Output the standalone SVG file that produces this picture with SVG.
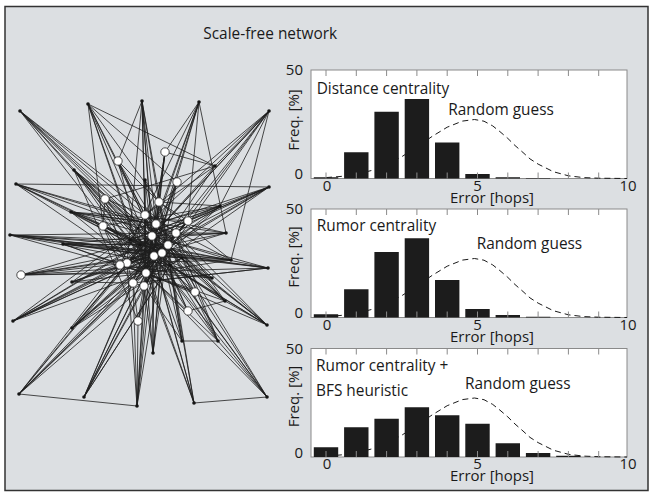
<svg xmlns="http://www.w3.org/2000/svg" xmlns:xlink="http://www.w3.org/1999/xlink" width="653" height="495" viewBox="0 0 653 495">
<style>
text{font-family:"Open Sans","Noto Sans","Liberation Sans",sans-serif;fill:#1a1a1a}
.t{font-size:15.4px}
.ax{font-size:15px}
.e path{fill:none;stroke:#1e1e1e;stroke-width:0.8}
.b{fill:#151515}
.w{fill:#fff;stroke:#222;stroke-width:0.8}
.box{fill:#fff;stroke:#8a8a8a;stroke-width:1}
.tk{fill:none;stroke:#8a8a8a;stroke-width:1}
.bar{fill:#1c1c1c}
.rg{fill:none;stroke:#1a1a1a;stroke-width:1;stroke-dasharray:6 4}
</style>
<defs>
<path id="curve" d="M326,-0.9 L341.2,-2.1 L356.3,-4.2 L371.5,-8 L386.6,-13.8 L401.8,-21.8 L416.9,-31.6 L432,-42 L447.2,-51.3 L462.4,-57.4 L474.5,-59 L484,-57.3 L492.7,-52.6 L500,-46.8 L507.8,-40.1 L515,-33 L523,-26 L530,-19.6 L538.1,-14.4 L553.3,-6.8 L568.4,-2.7 L583.6,-0.9 L598.7,-0.3 L627,0"/>
<path id="ticks" d="M326,0v6M356.3,0v6M386.6,0v6M416.9,0v6M447.2,0v6M477.5,0v6M507.8,0v6M538.1,0v6M568.4,0v6M598.7,0v6M326,108.5v-6M356.3,108.5v-6M386.6,108.5v-6M416.9,108.5v-6M447.2,108.5v-6M477.5,108.5v-6M507.8,108.5v-6M538.1,108.5v-6M568.4,108.5v-6M598.7,108.5v-6"/>
</defs>
<rect x="0" y="0" width="653" height="495" fill="#fff"/>
<rect x="5" y="6.5" width="643" height="484" fill="#dcdfe2" stroke="#333" stroke-width="1.5"/>
<text class="t" x="203.3" y="39">Scale-free network</text>

<g id="connectors" class="e">
<path d="M20 111L140 245M20 111L152 236M20 111L156 224M20 111L146 273M20 111L138 228M20 111L154 256M20 111L176 233M20 111L168 245"/>
<path d="M88 104L215 166M88 104L145 215M88 104L159 202M88 104L103 226M88 104L154 256M88 104L177 182M88 104L194 403M88 104L146 273M88 104L162 253"/>
<path d="M142 101L118 161M142 101L145 215M142 101L156 224M142 101L127 263M142 101L168 245M142 101L146 273M142 101L182 341M142 101L154 256M142 101L152 236"/>
<path d="M199 102L165 152M199 102L188 221M199 102L152 236M199 102L154 256M199 102L226 233M199 102L133 283M199 102L146 273M199 102L120 265"/>
<path d="M269 111L215 166M269 111L220 206M269 111L231 260M269 111L145 215M269 111L168 245M269 111L127 263M269 111L144 286M269 111L152 236M269 111L154 256M269 111L130 240"/>
<path d="M16 184L138 228M16 184L156 224M16 184L176 233M16 184L140 245M16 184L162 253M16 184L269 187M16 184L154 256M16 184L146 273"/>
<path d="M74 170L152 236M74 170L154 256M74 170L146 273M74 170L160 280M74 170L170 265M74 170L138 321M74 170L130 240M74 170L162 253M74 170L168 245"/>
<path d="M71 212L156 224M71 212L176 233M71 212L188 221M71 212L162 253M71 212L182 258M71 212L226 233M71 212L154 256M71 212L146 273M71 212L152 236"/>
<path d="M10 235L130 240M10 235L140 245M10 235L154 256M10 235L176 233M10 235L170 265M10 235L231 260M10 235L268 268M10 235L146 273M10 235L162 253M10 235L168 245"/>
<path d="M63 244L140 245M63 244L152 236M63 244L168 245M63 244L162 253M63 244L182 258M63 244L195 292M63 244L154 256M63 244L146 273"/>
<path d="M215 166L145 215M215 166L152 236M215 166L105 199M215 166L154 256M215 166L165 152"/>
<path d="M145 180L156 224M145 180L154 256M145 180L146 273M145 180L144 286M145 180L159 202"/>
<path d="M220 206L130 240M220 206L138 228M220 206L152 236M220 206L127 263M220 206L103 226M220 206L159 202M220 206L154 256M220 206L146 273"/>
<path d="M269 187L188 221M269 187L156 224M269 187L152 236M269 187L140 245M269 187L146 273M269 187L130 240M269 187L120 265M269 187L154 256M269 187L168 245"/>
<path d="M226 233L176 233M226 233L168 245M226 233L152 236M226 233L130 240M226 233L145 215M226 233L120 265"/>
<path d="M231 260L162 253M231 260L154 256M231 260L140 245M231 260L127 263M231 260L145 215M231 260L159 202M231 260L146 273M231 260L152 236"/>
<path d="M212 278L170 265M212 278L168 245M212 278L156 224M212 278L146 273M212 278L120 265M212 278L154 256"/>
<path d="M268 268L182 258M268 268L162 253M268 268L152 236M268 268L130 240M268 268L133 283M268 268L160 280"/>
<path d="M13 321L120 265M13 321L127 263M13 321L154 256M13 321L152 236M13 321L162 253M13 321L140 245M13 321L138 228M13 321L146 273M13 321L168 245"/>
<path d="M72 328L127 263M72 328L146 273M72 328L154 256M72 328L152 236M72 328L182 258M72 328L176 233M72 328L162 253M72 328L168 245"/>
<path d="M72 282L133 283M72 282L146 273M72 282L127 263M72 282L154 256M72 282L130 240M72 282L168 245"/>
<path d="M19 394L120 265M19 394L127 263M19 394L133 283M19 394L144 286M19 394L146 273M19 394L154 256M19 394L137 406M19 394L152 236M19 394L162 253"/>
<path d="M84 397L144 286M84 397L146 273M84 397L160 280M84 397L170 265M84 397L168 245M84 397L133 283M84 397L154 256M84 397L152 236"/>
<path d="M137 406L133 283M137 406L144 286M137 406L154 256M137 406L146 273M137 406L127 263M137 406L138 321M137 406L152 236M137 406L162 253"/>
<path d="M225 301L182 258M225 301L170 265M225 301L168 245M225 301L176 233M225 301L154 256M225 301L146 273M225 301L152 236M225 301L156 224"/>
<path d="M182 341L218 341M182 341L160 280M182 341L170 265M182 341L162 253M182 341L144 286"/>
<path d="M218 341L168 245M218 341L182 258M218 341L170 265M218 341L176 233M218 341L267 397M218 341L146 273M218 341L154 256"/>
<path d="M153 353L160 280M153 353L154 256M153 353L146 273M153 353L144 286M153 353L168 245M153 353L152 236M153 353L162 253"/>
<path d="M194 403L267 397M194 403L160 280M194 403L170 265M194 403L154 256M194 403L168 245M194 403L146 273"/>
<path d="M267 397L170 265M267 397L182 258M267 397L168 245M267 397L162 253M267 397L146 273M267 397L154 256"/>
<path d="M267 325L182 258M267 325L170 265M267 325L168 245M267 325L146 273M267 325L176 233M267 325L154 256M267 325L225 301M267 325L152 236M267 325L156 224"/>
<path d="M118 161L145 215M118 161L156 224M118 161L152 236M118 161L140 245"/>
<path d="M165 152L156 224M165 152L154 256M165 152L146 273M165 152L152 236"/>
<path d="M177 182L152 236M177 182L154 256M177 182L146 273M177 182L162 253"/>
<path d="M21 275L127 263M21 275L146 273M21 275L154 256M21 275L162 253M21 275L170 265M21 275L268 268M21 275L152 236M21 275L168 245"/>
<path d="M188 311L154 256M188 311L146 273M188 311L162 253M188 311L152 236M188 311L225 301"/>
<path d="M138 321L152 236M138 321L154 256M138 321L162 253M138 321L133 283"/>
<path d="M195 292L156 224M195 292L152 236M195 292L154 256M195 292L146 273"/>
<path d="M145 215L156 224M145 215L152 236M156 224L152 236M152 236L168 245M168 245L154 256M154 256L162 253M162 253L176 233M176 233L188 221M159 202L145 215M159 202L188 221M188 221L168 245M127 263L146 273M146 273L133 283M133 283L144 286M144 286L154 256M120 265L127 263M120 265L103 226M105 199L103 226M105 199L145 215M103 226L130 240M130 240L140 245M140 245L152 236M140 245L154 256M170 265L168 245M170 265L162 253M182 258L176 233M182 258L170 265M160 280L146 273M160 280L170 265M138 228L145 215M138 228L152 236M138 228L130 240M105 199L152 236M103 226L154 256M130 240L146 273M159 202L156 224M156 224L168 245M152 236L154 256M152 236L146 273M154 256L146 273M162 253L146 273M168 245L182 258M176 233L152 236M188 221L152 236M120 265L152 236M127 263L152 236M127 263L140 245M133 283L154 256M144 286L160 280M105 199L154 256M103 226L162 253M120 265L168 245M133 283L162 253M144 286L168 245M159 202L154 256M145 215L154 256M188 221L154 256M176 233L154 256M130 240L162 253M138 228L162 253M140 245L168 245M127 263L154 256M146 273L168 245M120 265L162 253"/>
<path d="M145 215L168 245M145 215L162 253M145 215L146 273M156 224L154 256M156 224L146 273M156 224L162 253M152 236L162 253M152 236L127 263M168 245L146 273M154 256L127 263M154 256L133 283M162 253L144 286M176 233L146 273M176 233L162 253M159 202L152 236M159 202L168 245M188 221L162 253M188 221L146 273M127 263L133 283M146 273L170 265M133 283L120 265M144 286L146 273M120 265L146 273M105 199L127 263M103 226L127 263M103 226L146 273M130 240L154 256M130 240L168 245M138 228L154 256M138 228L146 273M140 245L162 253M140 245L146 273M182 258L154 256M182 258L146 273M160 280L154 256M160 280L168 245M118 161L159 202M165 152L159 202"/>
</g>

<g id="n-o1"><circle class="b" cx="20" cy="111" r="1.8"/></g>
<g id="n-o2"><circle class="b" cx="88" cy="104" r="1.8"/></g>
<g id="n-o3"><circle class="b" cx="142" cy="101" r="1.8"/></g>
<g id="n-o4"><circle class="b" cx="199" cy="102" r="1.8"/></g>
<g id="n-o5"><circle class="b" cx="269" cy="111" r="1.8"/></g>
<g id="n-o6"><circle class="b" cx="16" cy="184" r="1.8"/></g>
<g id="n-o7"><circle class="b" cx="74" cy="170" r="1.8"/></g>
<g id="n-o8"><circle class="b" cx="71" cy="212" r="1.8"/></g>
<g id="n-o9"><circle class="b" cx="10" cy="235" r="1.8"/></g>
<g id="n-o10"><circle class="b" cx="63" cy="244" r="1.8"/></g>
<g id="n-o11"><circle class="b" cx="215" cy="166" r="1.8"/></g>
<g id="n-o12"><circle class="b" cx="145" cy="180" r="1.8"/></g>
<g id="n-o13"><circle class="b" cx="220" cy="206" r="1.8"/></g>
<g id="n-o14"><circle class="b" cx="269" cy="187" r="1.8"/></g>
<g id="n-o15"><circle class="b" cx="226" cy="233" r="1.8"/></g>
<g id="n-o16"><circle class="b" cx="231" cy="260" r="1.8"/></g>
<g id="n-o17"><circle class="b" cx="212" cy="278" r="1.8"/></g>
<g id="n-o18"><circle class="b" cx="268" cy="268" r="1.8"/></g>
<g id="n-o19"><circle class="b" cx="13" cy="321" r="1.8"/></g>
<g id="n-o20"><circle class="b" cx="72" cy="328" r="1.8"/></g>
<g id="n-o31"><circle class="b" cx="72" cy="282" r="1.8"/></g>
<g id="n-o21"><circle class="b" cx="19" cy="394" r="1.8"/></g>
<g id="n-o22"><circle class="b" cx="84" cy="397" r="1.8"/></g>
<g id="n-o23"><circle class="b" cx="137" cy="406" r="1.8"/></g>
<g id="n-o24"><circle class="b" cx="225" cy="301" r="1.8"/></g>
<g id="n-o25"><circle class="b" cx="182" cy="341" r="1.8"/></g>
<g id="n-o26"><circle class="b" cx="218" cy="341" r="1.8"/></g>
<g id="n-o27"><circle class="b" cx="153" cy="353" r="1.8"/></g>
<g id="n-o28"><circle class="b" cx="194" cy="403" r="1.8"/></g>
<g id="n-o29"><circle class="b" cx="267" cy="397" r="1.8"/></g>
<g id="n-o30"><circle class="b" cx="267" cy="325" r="1.8"/></g>
<g id="n-R"><circle class="b" cx="140" cy="245" r="1.6"/></g>
<g id="n-S"><circle class="b" cx="170" cy="265" r="1.6"/></g>
<g id="n-T"><circle class="b" cx="130" cy="240" r="1.6"/></g>
<g id="n-U"><circle class="b" cx="182" cy="258" r="1.6"/></g>
<g id="n-V"><circle class="b" cx="160" cy="280" r="1.6"/></g>
<g id="n-W"><circle class="b" cx="138" cy="228" r="1.6"/></g>
<g id="n-A"><circle class="w" cx="145" cy="215" r="4.2"/></g>
<g id="n-B"><circle class="w" cx="156" cy="224" r="4.2"/></g>
<g id="n-C"><circle class="w" cx="152" cy="236" r="4.2"/></g>
<g id="n-D"><circle class="w" cx="168" cy="245" r="4.2"/></g>
<g id="n-E"><circle class="w" cx="154" cy="256" r="4.2"/></g>
<g id="n-F"><circle class="w" cx="162" cy="253" r="4.2"/></g>
<g id="n-G"><circle class="w" cx="176" cy="233" r="4.2"/></g>
<g id="n-H"><circle class="w" cx="159" cy="202" r="4.2"/></g>
<g id="n-I"><circle class="w" cx="188" cy="221" r="4.2"/></g>
<g id="n-J"><circle class="w" cx="127" cy="263" r="4.2"/></g>
<g id="n-K"><circle class="w" cx="146" cy="273" r="4.2"/></g>
<g id="n-L"><circle class="w" cx="133" cy="283" r="4.2"/></g>
<g id="n-M"><circle class="w" cx="144" cy="286" r="4.2"/></g>
<g id="n-N"><circle class="w" cx="120" cy="265" r="4.2"/></g>
<g id="n-P"><circle class="w" cx="105" cy="199" r="4.2"/></g>
<g id="n-Q"><circle class="w" cx="103" cy="226" r="4.2"/></g>
<g id="n-w1"><circle class="w" cx="118" cy="161" r="4.2"/></g>
<g id="n-w2"><circle class="w" cx="165" cy="152" r="4.2"/></g>
<g id="n-w3"><circle class="w" cx="177" cy="182" r="4.2"/></g>
<g id="n-w4"><circle class="w" cx="21" cy="275" r="4.2"/></g>
<g id="n-w5"><circle class="w" cx="188" cy="311" r="4.2"/></g>
<g id="n-w6"><circle class="w" cx="138" cy="321" r="4.2"/></g>
<g id="n-w7"><circle class="w" cx="195" cy="292" r="4.2"/></g>

<g id="chart1">
<rect class="box" x="311" y="70" width="316" height="108.5"/>
<use href="#curve" class="rg" transform="translate(0,178.5)"/>
<path class="bar" d="M313.8 177.2h24.4v1.3h-24.4zM344.1 152.3h24.4v26.2h-24.4zM374.4 111.7h24.4v66.8h-24.4zM404.7 99h24.4v79.5h-24.4zM435 142.5h24.4v36h-24.4zM465.3 174h24.4v4.5h-24.4zM495.6 177.2h24.4v1.3h-24.4zM525.9 177.9h24.4v0.6h-24.4z"/>
<use href="#ticks" class="tk" transform="translate(0,70)"/>
<text class="t" x="316.7" y="94.3">Distance centrality</text>
<text class="t" x="448.3" y="114.5">Random guess</text>
<text class="ax" x="303" y="75.3" text-anchor="end">50</text>
<text class="ax" x="303" y="179" text-anchor="end">0</text>
<text class="ax" transform="translate(299,120) rotate(-90)" text-anchor="middle">Freq. [%]</text>
<text class="ax" x="327" y="190.5" text-anchor="middle">0</text>
<text class="ax" x="477.5" y="190.5" text-anchor="middle">5</text>
<text class="ax" x="628" y="190.5" text-anchor="middle">10</text>
<text class="ax" x="450" y="202.5">Error [hops]</text>
</g>

<g id="chart2">
<rect class="box" x="311" y="209" width="316" height="108.5"/>
<use href="#curve" class="rg" transform="translate(0,317.5)"/>
<path class="bar" d="M313.8 314.3h24.4v3.2h-24.4zM344.1 289.3h24.4v28.2h-24.4zM374.4 252h24.4v65.5h-24.4zM404.7 238.3h24.4v79.2h-24.4zM435 280h24.4v37.5h-24.4zM465.3 309h24.4v8.5h-24.4zM495.6 315h24.4v2.5h-24.4zM525.9 316.8h24.4v0.7h-24.4z"/>
<use href="#ticks" class="tk" transform="translate(0,209)"/>
<text class="t" x="316.7" y="230.5">Rumor centrality</text>
<text class="t" x="476.7" y="248.7">Random guess</text>
<text class="ax" x="303" y="214" text-anchor="end">50</text>
<text class="ax" x="303" y="318" text-anchor="end">0</text>
<text class="ax" transform="translate(299,257) rotate(-90)" text-anchor="middle">Freq. [%]</text>
<text class="ax" x="327" y="329.5" text-anchor="middle">0</text>
<text class="ax" x="477.5" y="329.5" text-anchor="middle">5</text>
<text class="ax" x="628" y="329.5" text-anchor="middle">10</text>
<text class="ax" x="450" y="341.5">Error [hops]</text>
</g>

<g id="chart3">
<rect class="box" x="311" y="348.5" width="316" height="108.5"/>
<use href="#curve" class="rg" transform="translate(0,457)"/>
<path class="bar" d="M313.8 447.3h24.4v9.7h-24.4zM344.1 427.3h24.4v29.7h-24.4zM374.4 418.7h24.4v38.3h-24.4zM404.7 407.3h24.4v49.7h-24.4zM435 415.3h24.4v41.7h-24.4zM465.3 423.7h24.4v33.3h-24.4zM495.6 443.3h24.4v13.7h-24.4zM525.9 453h24.4v4h-24.4zM556.2 455.7h24.4v1.3h-24.4z"/>
<use href="#ticks" class="tk" transform="translate(0,348.5)"/>
<text class="t" x="316" y="371">Rumor centrality +</text>
<text class="t" x="316" y="396">BFS heuristic</text>
<text class="t" x="465" y="388.7">Random guess</text>
<text class="ax" x="303" y="353.5" text-anchor="end">50</text>
<text class="ax" x="303" y="457.5" text-anchor="end">0</text>
<text class="ax" transform="translate(299,396.5) rotate(-90)" text-anchor="middle">Freq. [%]</text>
<text class="ax" x="327" y="469" text-anchor="middle">0</text>
<text class="ax" x="477.5" y="469" text-anchor="middle">5</text>
<text class="ax" x="628" y="469" text-anchor="middle">10</text>
<text class="ax" x="450" y="481">Error [hops]</text>
</g>
</svg>
